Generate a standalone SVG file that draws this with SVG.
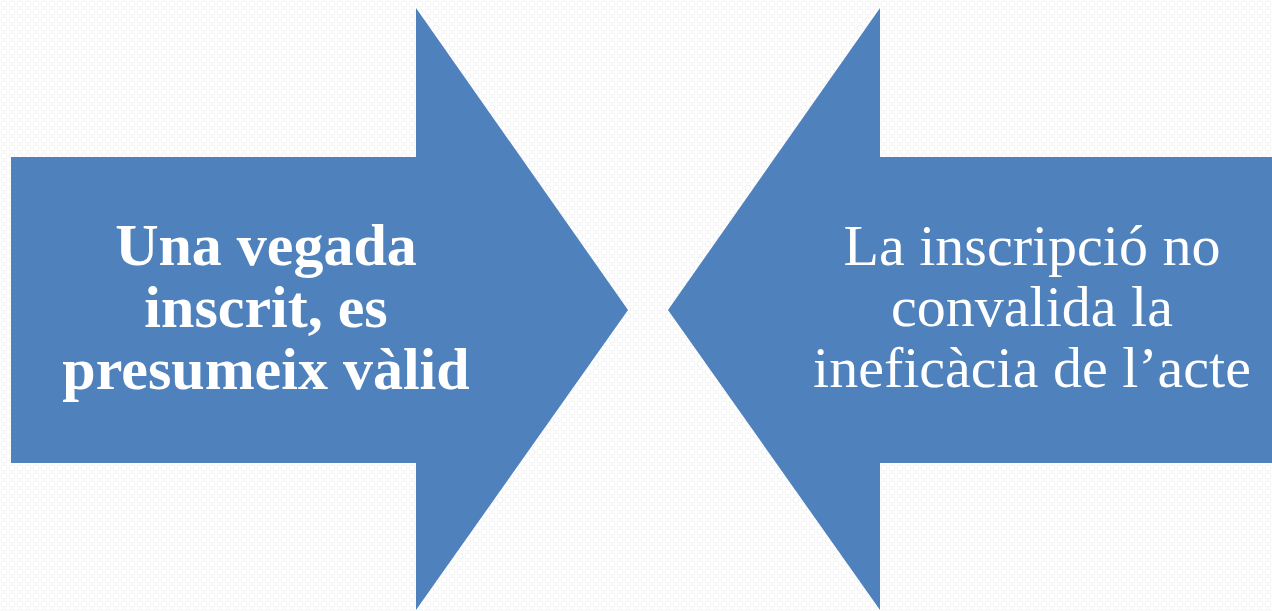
<svg xmlns="http://www.w3.org/2000/svg" width="1272" height="611" viewBox="0 0 1272 611">
<defs>
<pattern id="bg" width="8" height="8" patternUnits="userSpaceOnUse">
<rect width="8" height="8" fill="#ffffff"/>
<circle cx="4" cy="4" r="3" fill="none" stroke="#f1f1f1" stroke-width="1"/>
</pattern>
<style>
.arrow{fill:#4f81bd;}
.t{fill:#ffffff;font-family:"Liberation Serif","DejaVu Serif",serif;font-size:58px;text-anchor:middle;}
.b{font-weight:bold;font-size:60px;}
</style>
</defs>
<rect width="1272" height="611" fill="url(#bg)"/>
<g id="node-left">
<polygon class="arrow" points="11,157 416,157 416,8 628,310 416,610 416,463 11,463"/>
<text class="t b" x="266" y="265">Una vegada</text>
<text class="t b" x="266" y="327">inscrit, es</text>
<text class="t b" x="266" y="389">presumeix vàlid</text>
</g>
<g id="node-right">
<polygon class="arrow" points="1272,157 880,157 880,8 668,310 880,610 880,463 1272,463"/>
<text class="t" x="1032" y="265">La inscripció no</text>
<text class="t" x="1032" y="326">convalida la</text>
<text class="t" x="1032" y="387">ineficàcia de l’acte</text>
</g>
<g id="connectors"></g>
</svg>
